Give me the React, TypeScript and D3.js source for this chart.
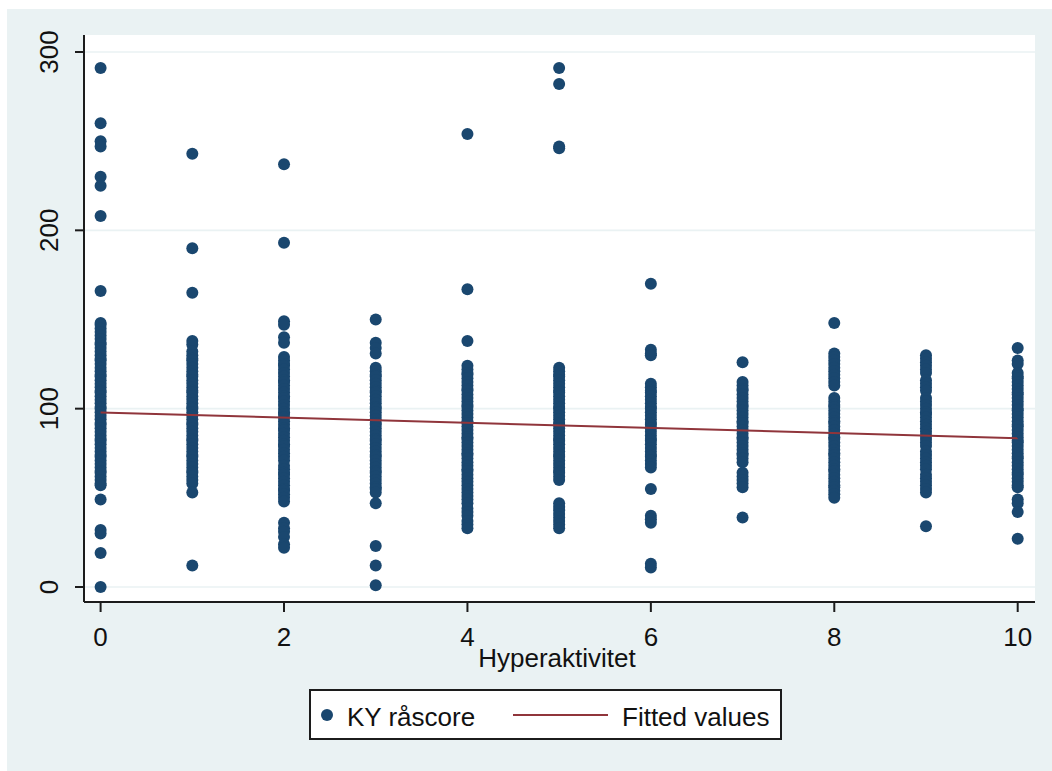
import React from 'react';
import * as d3 from 'd3';

// KY råscore, one array per Hyperaktivitet score
const ky0 = [291, 260, 250, 247, 230, 225, 208, 166, 148, 147, 145, 143, 141, 139, 137, 136, 134, 132, 130, 128, 127, 125, 123, 121, 119, 118, 116, 114, 112, 110, 109, 107, 105, 103, 101, 100, 98, 96, 94, 92, 91, 89, 87, 85, 83, 82, 80, 78, 76, 74, 73, 71, 69, 67, 65, 64, 62, 60, 58, 57, 49, 32, 30, 19, 0];
const ky1 = [243, 190, 165, 138, 136, 132, 130, 128, 127, 125, 123, 121, 119, 118, 116, 114, 112, 110, 109, 107, 105, 103, 101, 100, 98, 96, 94, 92, 91, 89, 87, 85, 83, 82, 80, 78, 76, 74, 73, 71, 69, 67, 65, 64, 62, 60, 58, 53, 12];
const ky2 = [237, 193, 149, 147, 140, 137, 129, 127, 125, 124, 122, 120, 118, 116, 115, 113, 111, 109, 107, 106, 104, 102, 100, 98, 97, 95, 93, 91, 89, 88, 86, 84, 82, 80, 79, 77, 75, 73, 71, 68, 66, 64, 63, 61, 59, 57, 55, 54, 52, 50, 48, 36, 33, 31, 28, 24, 22];
const ky3 = [150, 137, 134, 131, 123, 121, 119, 118, 116, 114, 112, 110, 109, 107, 105, 103, 101, 100, 98, 96, 94, 92, 91, 89, 87, 85, 83, 82, 80, 78, 76, 74, 73, 71, 69, 67, 65, 64, 62, 60, 58, 56, 55, 53, 47, 23, 12, 1];
const ky4 = [254, 167, 138, 124, 122, 120, 119, 117, 115, 113, 111, 110, 108, 106, 104, 102, 101, 99, 97, 95, 93, 92, 90, 88, 86, 84, 83, 81, 79, 77, 75, 74, 72, 70, 68, 66, 65, 63, 61, 59, 57, 55, 53, 51, 49, 47, 44, 42, 40, 37, 35, 33];
const ky5 = [291, 282, 247, 246, 123, 121, 119, 118, 116, 114, 112, 110, 109, 107, 105, 103, 101, 100, 98, 96, 94, 92, 91, 89, 87, 85, 83, 82, 80, 78, 76, 74, 73, 71, 69, 67, 65, 64, 62, 60, 47, 45, 43, 41, 39, 37, 35, 33];
const ky6 = [170, 133, 131, 130, 114, 112, 110, 109, 107, 105, 103, 101, 100, 98, 96, 94, 92, 91, 89, 87, 85, 83, 82, 80, 78, 76, 74, 73, 71, 69, 67, 55, 40, 38, 36, 13, 11];
const ky7 = [126, 115, 113, 111, 110, 108, 106, 104, 102, 101, 99, 97, 95, 93, 92, 90, 88, 86, 84, 83, 81, 79, 77, 75, 74, 72, 70, 64, 62, 60, 58, 56, 39];
const ky8 = [148, 131, 129, 127, 125, 123, 121, 119, 117, 115, 113, 106, 104, 102, 101, 99, 97, 95, 93, 92, 90, 88, 86, 84, 83, 81, 79, 77, 75, 74, 72, 70, 68, 66, 65, 63, 61, 59, 57, 56, 54, 52, 50];
const ky9 = [130, 128, 126, 124, 122, 120, 116, 114, 112, 110, 106, 104, 102, 100, 98, 97, 95, 93, 91, 89, 87, 85, 83, 81, 79, 76, 74, 72, 70, 68, 66, 63, 61, 59, 57, 55, 53, 34];
const ky10 = [134, 127, 125, 120, 118, 117, 115, 113, 111, 109, 108, 106, 104, 102, 100, 99, 97, 95, 93, 91, 90, 88, 86, 84, 82, 81, 79, 77, 75, 73, 72, 70, 68, 66, 64, 63, 61, 59, 57, 56, 49, 47, 42, 27];

const hyper = [0, 1, 2, 3, 4, 5, 6, 7, 8, 9, 10];
const kyByHyper = [ky0, ky1, ky2, ky3, ky4, ky5, ky6, ky7, ky8, ky9, ky10];

// fitted values at the ends of the x range
const fitX = [0, 10];
const fitY = [97.9, 83.4];

const xTicks = [0, 2, 4, 6, 8, 10];
const yTicks = [0, 100, 200, 300];

const navy = '#1a476f';
const maroon = '#90353b';
const bg = '#eaf2f3';
const font = '"Liberation Sans", Arial, sans-serif';

export default function App() {
  const plot = { left: 84, right: 1035, top: 35, bottom: 602 };
  const x = d3.scaleLinear().domain([0, 10]).range([100.6, 1017.7]);
  const y = d3.scaleLinear().domain([0, 300]).range([587, 52]);

  const points: [number, number][] = [];
  hyper.forEach((h, i) => kyByHyper[i].forEach((v) => points.push([h, v])));

  const fitLine = d3
    .line<number>()
    .x((d) => x(d))
    .y((_, i) => y(fitY[i]))(fitX);

  return (
    <svg
      width={1052}
      height={771}
      style={{ position: 'absolute', left: 0, top: 0, background: '#fff' }}
      fontFamily={font}
    >
      <rect x={7} y={9} width={1045} height={762} fill={bg} />
      <rect
        x={plot.left}
        y={plot.top}
        width={plot.right - plot.left}
        height={plot.bottom - plot.top}
        fill="#fff"
      />

      {/* grid */}
      {yTicks.map((t) => (
        <line
          key={'g' + t}
          x1={plot.left}
          x2={plot.right}
          y1={y(t)}
          y2={y(t)}
          stroke={bg}
          strokeWidth={1.6}
        />
      ))}

      {/* scatter */}
      {points.map(([h, v], i) => (
        <circle key={i} cx={x(h)} cy={y(v)} r={6} fill={navy} />
      ))}

      <path d={fitLine || ''} fill="none" stroke={maroon} strokeWidth={2} />

      {/* y axis */}
      <line x1={plot.left} x2={plot.left} y1={plot.top} y2={plot.bottom} stroke="#1c1c1c" strokeWidth={2} />
      {yTicks.map((t) => (
        <g key={'y' + t}>
          <line x1={plot.left - 9} x2={plot.left} y1={y(t)} y2={y(t)} stroke="#1c1c1c" strokeWidth={2} />
          <text
            transform={`translate(58,${y(t)}) rotate(-90)`}
            textAnchor="middle"
            fontSize={26}
            fill="#111"
          >
            {t}
          </text>
        </g>
      ))}

      {/* x axis */}
      <line x1={plot.left} x2={plot.right} y1={plot.bottom} y2={plot.bottom} stroke="#1c1c1c" strokeWidth={2} />
      {xTicks.map((t) => (
        <g key={'x' + t}>
          <line x1={x(t)} x2={x(t)} y1={plot.bottom} y2={plot.bottom + 10} stroke="#1c1c1c" strokeWidth={2} />
          <text x={x(t)} y={646} textAnchor="middle" fontSize={26} fill="#111">
            {t}
          </text>
        </g>
      ))}
      <text x={557} y={667} textAnchor="middle" fontSize={26} fill="#111">
        Hyperaktivitet
      </text>

      {/* legend */}
      <rect x={310} y={690} width={471} height={49} fill="#fff" stroke="#1c1c1c" strokeWidth={2} />
      <circle cx={327} cy={715} r={6} fill={navy} />
      <text x={347} y={726} fontSize={26} fill="#111">
        KY råscore
      </text>
      <line x1={513} x2={608} y1={715} y2={715} stroke={maroon} strokeWidth={2} />
      <text x={622} y={726} fontSize={26} fill="#111">
        Fitted values
      </text>
    </svg>
  );
}
